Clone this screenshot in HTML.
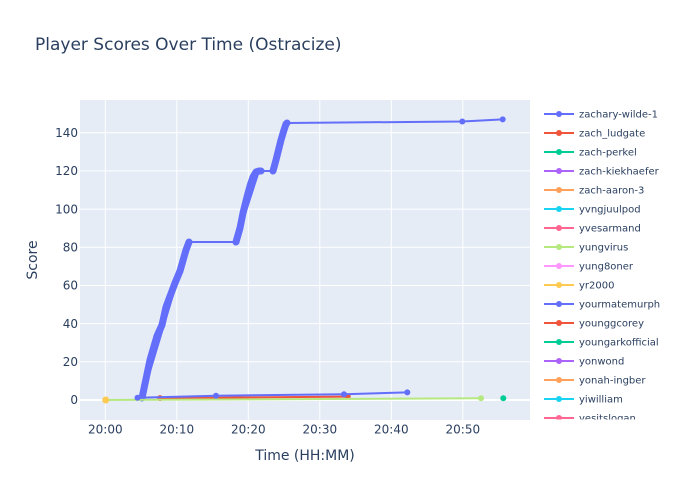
<!DOCTYPE html>
<html><head><meta charset="utf-8"><style>
html,body{margin:0;padding:0;background:#fff;}
svg{display:block;font-family:"DejaVu Sans","Liberation Sans",sans-serif;}
</style></head><body>
<svg width="700" height="500" viewBox="0 0 700 500" xmlns="http://www.w3.org/2000/svg">
<rect x="0" y="0" width="700" height="500" fill="#fff"/>
<text x="35" y="50" font-size="17" fill="#2a3f5f">Player Scores Over Time (Ostracize)</text>
<defs><clipPath id="pc"><rect x="80" y="100" width="450" height="320"/></clipPath>
<clipPath id="lc"><rect x="530" y="100" width="170" height="319.5"/></clipPath></defs>
<rect x="80" y="100" width="450" height="320" fill="#E5ECF6"/>
<g stroke="#fff" stroke-width="1">
<line x1="105.3" y1="100" x2="105.3" y2="420"/>
<line x1="176.8" y1="100" x2="176.8" y2="420"/>
<line x1="248.3" y1="100" x2="248.3" y2="420"/>
<line x1="319.8" y1="100" x2="319.8" y2="420"/>
<line x1="391.3" y1="100" x2="391.3" y2="420"/>
<line x1="462.8" y1="100" x2="462.8" y2="420"/>
<line x1="80" y1="361.8" x2="530" y2="361.8"/>
<line x1="80" y1="323.6" x2="530" y2="323.6"/>
<line x1="80" y1="285.5" x2="530" y2="285.5"/>
<line x1="80" y1="247.3" x2="530" y2="247.3"/>
<line x1="80" y1="209.1" x2="530" y2="209.1"/>
<line x1="80" y1="170.9" x2="530" y2="170.9"/>
<line x1="80" y1="132.7" x2="530" y2="132.7"/>
</g>
<line x1="80" y1="400" x2="530" y2="400" stroke="#fff" stroke-width="2"/>
<g clip-path="url(#pc)">
<!-- zachary-wilde-1 -->
<g fill="none" stroke="#636efa" stroke-linecap="round" stroke-linejoin="round">
<polyline stroke-width="2" points="141.7,397.5 142,398 189,242 236,242 259,171 273,171 287,123 462.3,121.5 502.7,119.4"/>
<polyline stroke-width="7" points="142,398 150,360 157,336 162,325 166,307 175,283 180,271 186,250 189,242"/>
<polyline stroke-width="7" points="236,242 240,228 243,213 247,197 250,186 253,177 256,172 259,171 261,171"/>
<polyline stroke-width="7" points="273,171 276,160 279,148 281,140 284,130 286,124 287,123"/>
</g>
<g fill="#636efa"><circle cx="141.7" cy="397.8" r="3.5"/><circle cx="462.3" cy="121.5" r="3"/><circle cx="502.7" cy="119.4" r="3"/></g>
<!-- zach_ludgate -->
<polyline fill="none" stroke="#EF553B" stroke-width="2" points="160,398.1 347.7,396.6"/>
<g fill="#EF553B"><circle cx="160" cy="398.1" r="3"/><circle cx="347.7" cy="396.4" r="3"/></g>
<!-- yungvirus -->
<polyline fill="none" stroke="#B6E880" stroke-width="2" points="105.3,400 481,398.3"/>
<g fill="#B6E880"><circle cx="481" cy="398.3" r="3"/></g>
<!-- yr2000 -->
<circle cx="105.7" cy="400" r="3.5" fill="#FECB52"/>
<!-- yourmatemurph -->
<polyline fill="none" stroke="#636efa" stroke-width="2" points="137.5,397.8 216,395.7 344,394.2 407.3,392.4"/>
<g fill="#636efa"><circle cx="137.5" cy="397.8" r="3"/><circle cx="216" cy="395.8" r="3"/><circle cx="344" cy="394.2" r="3"/><circle cx="407.3" cy="392.4" r="3"/></g>
<!-- youngarkofficial -->
<circle cx="503.3" cy="398.3" r="3" fill="#00cc96"/>
</g>
<!-- y ticks -->
<g font-size="12" fill="#2a3f5f" text-anchor="end">
<text x="78" y="404.2">0</text>
<text x="78" y="366">20</text>
<text x="78" y="327.8">40</text>
<text x="78" y="289.7">60</text>
<text x="78" y="251.5">80</text>
<text x="78" y="213.3">100</text>
<text x="78" y="175.1">120</text>
<text x="78" y="136.9">140</text>
</g>
<g font-size="12" fill="#2a3f5f" text-anchor="middle">
<text x="105.3" y="433.5">20:00</text>
<text x="176.8" y="433.5">20:10</text>
<text x="248.3" y="433.5">20:20</text>
<text x="319.8" y="433.5">20:30</text>
<text x="391.3" y="433.5">20:40</text>
<text x="462.8" y="433.5">20:50</text>
</g>
<text x="305" y="460" font-size="14" fill="#2a3f5f" text-anchor="middle">Time (HH:MM)</text>
<text transform="translate(37,260) rotate(-90)" font-size="14" fill="#2a3f5f" text-anchor="middle">Score</text>
<!-- legend -->
<g clip-path="url(#lc)" font-size="10" fill="#2a3f5f">
<g stroke-width="2">
<line x1="544" y1="114" x2="574" y2="114" stroke="#636efa"/>
<line x1="544" y1="133" x2="574" y2="133" stroke="#EF553B"/>
<line x1="544" y1="152" x2="574" y2="152" stroke="#00cc96"/>
<line x1="544" y1="171" x2="574" y2="171" stroke="#ab63fa"/>
<line x1="544" y1="190" x2="574" y2="190" stroke="#FFA15A"/>
<line x1="544" y1="209" x2="574" y2="209" stroke="#19d3f3"/>
<line x1="544" y1="228" x2="574" y2="228" stroke="#FF6692"/>
<line x1="544" y1="247" x2="574" y2="247" stroke="#B6E880"/>
<line x1="544" y1="266" x2="574" y2="266" stroke="#FF97FF"/>
<line x1="544" y1="285" x2="574" y2="285" stroke="#FECB52"/>
<line x1="544" y1="304" x2="574" y2="304" stroke="#636efa"/>
<line x1="544" y1="323" x2="574" y2="323" stroke="#EF553B"/>
<line x1="544" y1="342" x2="574" y2="342" stroke="#00cc96"/>
<line x1="544" y1="361" x2="574" y2="361" stroke="#ab63fa"/>
<line x1="544" y1="380" x2="574" y2="380" stroke="#FFA15A"/>
<line x1="544" y1="399" x2="574" y2="399" stroke="#19d3f3"/>
<line x1="544" y1="418" x2="574" y2="418" stroke="#FF6692"/>
</g>
<circle cx="559" cy="114" r="3" fill="#636efa"/>
<circle cx="559" cy="133" r="3" fill="#EF553B"/>
<circle cx="559" cy="152" r="3" fill="#00cc96"/>
<circle cx="559" cy="171" r="3" fill="#ab63fa"/>
<circle cx="559" cy="190" r="3" fill="#FFA15A"/>
<circle cx="559" cy="209" r="3" fill="#19d3f3"/>
<circle cx="559" cy="228" r="3" fill="#FF6692"/>
<circle cx="559" cy="247" r="3" fill="#B6E880"/>
<circle cx="559" cy="266" r="3" fill="#FF97FF"/>
<circle cx="559" cy="285" r="3" fill="#FECB52"/>
<circle cx="559" cy="304" r="3" fill="#636efa"/>
<circle cx="559" cy="323" r="3" fill="#EF553B"/>
<circle cx="559" cy="342" r="3" fill="#00cc96"/>
<circle cx="559" cy="361" r="3" fill="#ab63fa"/>
<circle cx="559" cy="380" r="3" fill="#FFA15A"/>
<circle cx="559" cy="399" r="3" fill="#19d3f3"/>
<circle cx="559" cy="418" r="3" fill="#FF6692"/>
<text x="579" y="117.5">zachary-wilde-1</text>
<text x="579" y="136.5">zach_ludgate</text>
<text x="579" y="155.5">zach-perkel</text>
<text x="579" y="174.5">zach-kiekhaefer</text>
<text x="579" y="193.5">zach-aaron-3</text>
<text x="579" y="212.5">yvngjuulpod</text>
<text x="579" y="231.5">yvesarmand</text>
<text x="579" y="250.5">yungvirus</text>
<text x="579" y="269.5">yung8oner</text>
<text x="579" y="288.5">yr2000</text>
<text x="579" y="307.5">yourmatemurph</text>
<text x="579" y="326.5">younggcorey</text>
<text x="579" y="345.5">youngarkofficial</text>
<text x="579" y="364.5">yonwond</text>
<text x="579" y="383.5">yonah-ingber</text>
<text x="579" y="402.5">yiwilliam</text>
<text x="579" y="421.5">yesitslogan</text>
</g>
</svg>
</body></html>
